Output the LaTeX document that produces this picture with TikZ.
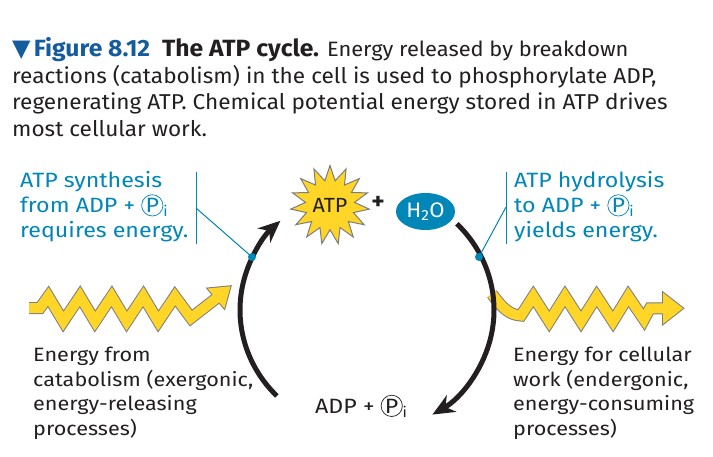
\documentclass[tikz,border=0pt]{standalone}
\usepackage{fontspec}
\setmainfont{Fira Sans}[FakeStretch=1.05]
\newfontfamily\widefont{Fira Sans}[FakeStretch=1.12]
\newfontfamily\symfont{DejaVu Sans}
\usetikzlibrary{arrows.meta,shapes.geometric}

\definecolor{figblue}{RGB}{0,134,183}
\definecolor{titleblue}{RGB}{20,92,158}
\definecolor{atpyellow}{RGB}{255,213,40}
\definecolor{zigedge}{RGB}{125,125,125}
\definecolor{inkblack}{RGB}{35,31,32}

% circled P with subscript i
\newcommand{\phos}{\tikz[baseline=(pc.base)]\node[circle,draw,inner sep=0.6pt,line width=0.7pt] (pc) {P};$_{\mathrm{i}}$}

% zigzag centre lines
\newcommand{\zigleft}{(29,148) -- (40,148) -- (48.3,159.6) -- (63.3,134.6) -- (80,159.6) -- (95,134.6)
  -- (111.7,159.6) -- (126.7,134.6) -- (143.3,159.6) -- (158.3,134.6) -- (175,159.6) -- (191,138) -- (218,159)}
\newcommand{\zigright}{(492,162) .. controls (503,147) and (510,141) .. (521,140.5) -- (533.3,159.6) -- (549.2,134.6)
  -- (565,159.6) -- (581,134.6) -- (596.7,159.6) -- (613,134.6) -- (628.3,159.6) -- (644,136.5) -- (650,147.7) -- (665,147.7)}

\tikzset{
  notetext/.style={anchor=base west, align=left, inner sep=0pt, text=figblue, font=\widefont\fontsize{20.7}{25.5}\selectfont},
  bodytext/.style={anchor=base west, align=left, inner sep=0pt, text=inkblack, font=\widefont\fontsize{19.3}{24.5}\selectfont},
  cycarrow/.style={line width=5pt, draw=inkblack, -{Stealth[length=22pt,width=19pt,inset=7pt]}},
  leader/.style={draw=figblue, line width=1pt},
  zigout/.style={draw=zigedge, line width=12pt, line join=miter},
  zigin/.style={draw=atpyellow, line width=10pt, line join=miter},
}

\begin{document}
\begin{tikzpicture}[x=1pt, y=1pt]

\useasboundingbox [fill=white] (0,0) rectangle (713,456);

% caption (anchored at its last line)
\node [anchor=base west, align=left, inner sep=0pt, text=inkblack, font=\fontsize{21.5}{26.5}\selectfont] (caption) at (12,319.5)
  {{\color{titleblue}{\symfont\fontsize{24}{26.5}\selectfont ▼}\hspace{0.15em}\bfseries\fontsize{23.5}{26.5}\selectfont Figure 8.12}\hspace{0.55em}%
   {\bfseries\fontsize{23.5}{26.5}\selectfont The ATP cycle.}
   {\fontsize{20.8}{26.5}\selectfont Energy released by breakdown}\\
   reactions (catabolism) in the cell is used to phosphorylate ADP,\\
   regenerating ATP. Chemical potential energy stored in ATP drives\\
   most cellular work.};

% energy zigzags
\begin{scope}
    \draw [zigout] \zigleft;
    \draw [zigout] \zigright;
    \filldraw [draw=zigedge, line width=2pt, line join=miter] (207.6,167.5) -- (230.5,169.7) -- (224.4,147.5) -- cycle;
    \filldraw [draw=zigedge, line width=2pt, line join=miter] (663,163.3) -- (683,147.7) -- (663,132) -- cycle;
    \draw [zigin] \zigleft;
    \draw [zigin] \zigright;
    \fill [atpyellow] (207.6,167.5) -- (230.5,169.7) -- (224.4,147.5) -- cycle;
    \fill [atpyellow] (663,163.3) -- (683,147.7) -- (663,132) -- cycle;
\end{scope}

% cycle
\coordinate (cyc) at (367,146);
\draw [cycarrow] (cyc) ++(224.8:127 and 122) arc [start angle=224.8, end angle=133, x radius=127, y radius=122];
\draw [cycarrow] (cyc) ++(45:127 and 122) arc [start angle=45, end angle=-59, x radius=127, y radius=122];

% molecules
\node [star, star points=15, star point ratio=1.6, minimum size=76pt, inner sep=0pt,
       fill=atpyellow, draw=zigedge, line width=1pt, font=\fontsize{20.5}{20.5}\selectfont, text=inkblack] (atp) at (330,251) {ATP};
\node [font=\fontsize{24}{24}\bfseries, text=inkblack] (plus) at (378,253) {+};
\node [ellipse, minimum width=59pt, minimum height=37pt, inner sep=0pt, fill=figblue,
       text=white, font=\fontsize{21}{21}\selectfont] (water) at (425.5,244.5) {H\textsubscript{2}O};
\node [bodytext, font=\widefont\fontsize{20.7}{24.5}\selectfont] (adp) at (315,43) {ADP + \phos};

% notes with leaders
\fill [figblue] (252,199) circle [radius=4] coordinate (synDot);
\fill [figblue] (479,199) circle [radius=4] coordinate (hydDot);
\coordinate (synBar) at (196,248);
\coordinate (hydBar) at (506,249);
\draw [leader] (196,212) -- (196,284);
\draw [leader] (506,212) -- (506,284);
\draw [leader] (synDot) -- (synBar);
\draw [leader] (hydDot) -- (hydBar);
\node [notetext] (synNote) at (20,218) {ATP synthesis\\from ADP + \phos\\requires energy.};
\node [notetext] (hydNote) at (514,218) {ATP hydrolysis\\to ADP + \phos\\yields energy.};

% energy texts
\node [bodytext] (fromCat) at (33,21) {Energy from\\catabolism (exergonic,\\energy-releasing\\processes)};
\node [bodytext] (forWork) at (513,21) {Energy for cellular\\work (endergonic,\\energy-consuming\\processes)};

\end{tikzpicture}
\end{document}
